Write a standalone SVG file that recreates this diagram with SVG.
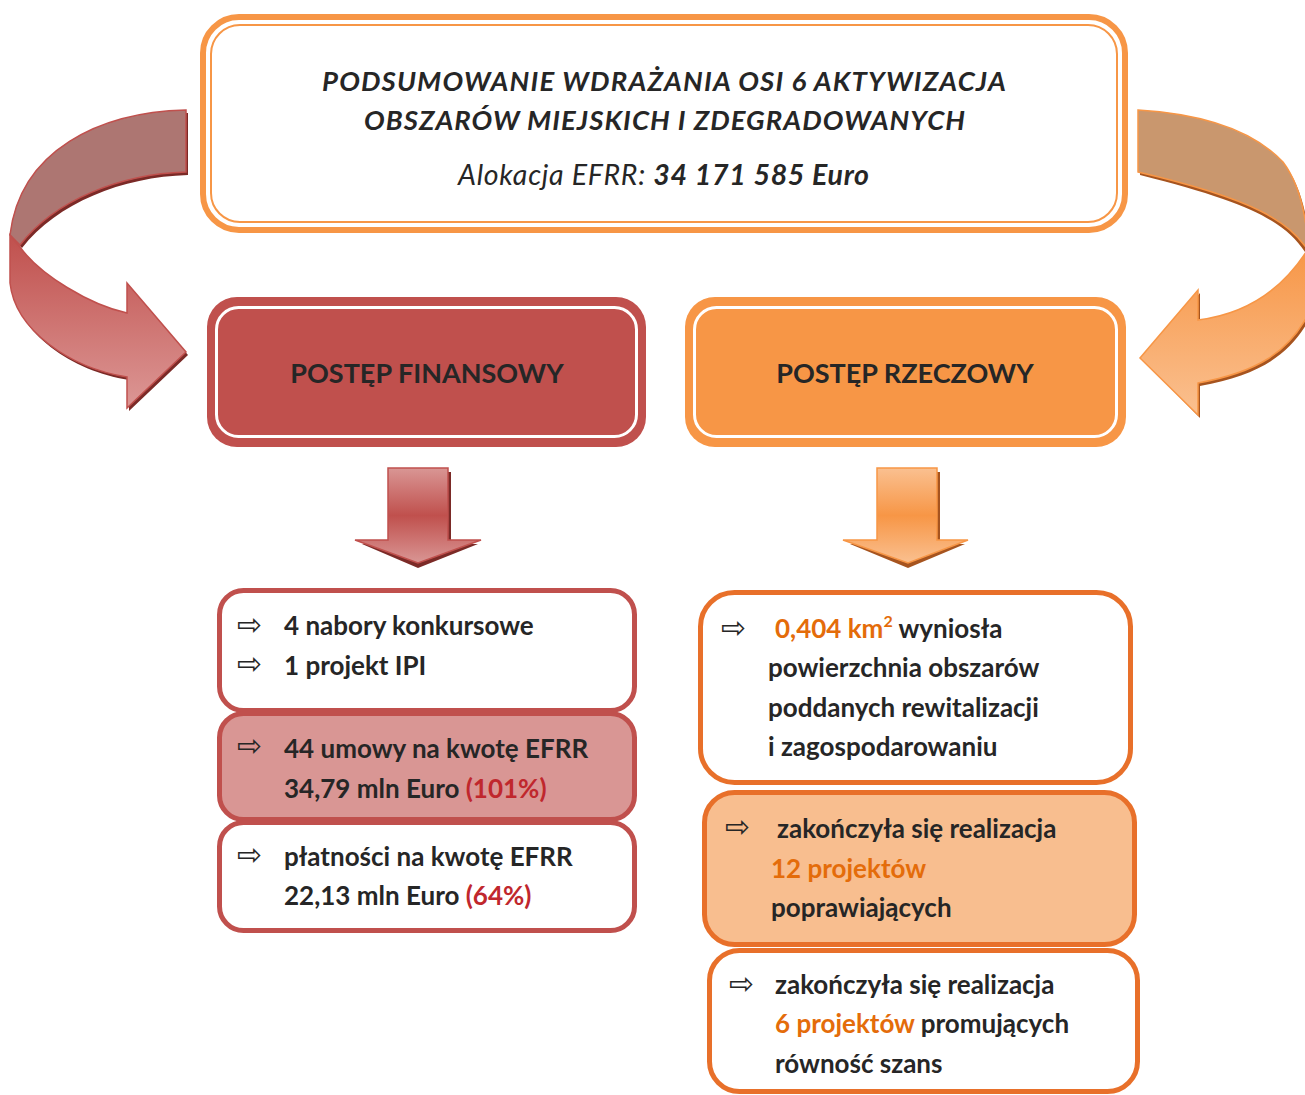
<svg xmlns="http://www.w3.org/2000/svg" width="1305" height="1095" viewBox="0 0 1305 1095">
<defs>
<style>
.t{font-family:Lato,"Liberation Sans","DejaVu Sans",sans-serif;fill:#262626}
.b{font-weight:bold}
.i{font-style:italic}
.item{font-size:26px;font-weight:bold}
.hd{font-size:27px;font-weight:bold;text-anchor:middle}
.arr{font-family:"DejaVu Sans",sans-serif;font-size:30px;fill:#262626}
.red{fill:#C0272D}
.or{fill:#E46C0A}
</style>
<linearGradient id="gRed" x1="0" y1="0" x2="0" y2="1">
<stop offset="0" stop-color="#C0504D"/>
<stop offset="1" stop-color="#DC9795"/>
</linearGradient>
<linearGradient id="gOr" x1="0" y1="0" x2="0" y2="1">
<stop offset="0" stop-color="#F79646"/>
<stop offset="1" stop-color="#FAC090"/>
</linearGradient>
<linearGradient id="gRedD" x1="0" y1="0" x2="0" y2="1">
<stop offset="0" stop-color="#D99694"/>
<stop offset="0.5" stop-color="#C0504D"/>
<stop offset="1" stop-color="#D99694"/>
</linearGradient>
<linearGradient id="gOrD" x1="0" y1="0" x2="0" y2="1">
<stop offset="0" stop-color="#FAC090"/>
<stop offset="0.5" stop-color="#F79646"/>
<stop offset="1" stop-color="#FAC090"/>
</linearGradient>
</defs>

<g id="connectors">
  <!-- left curved arrow -->
  <g id="curve-left">
    <path d="M188,113 C102,115 22,153 12,238 L22,248 C57,203 122,177 188,175 Z" fill="#7B2A27"/>
    <path d="M12,238 L12,286 C17,333 72,371 129,380 L129,411 L188,355 L129,286 L129,316 C92,308 42,278 22,250 Z" fill="#7B2A27"/>
    <path d="M186,110 C100,112 20,150 10,235 L20,245 C55,200 120,174 186,172 Z" fill="#AD7672" stroke="#C0504D" stroke-width="1.5"/>
    <path d="M10,235 L10,283 C15,330 70,368 127,377 L127,408 L186,352 L127,283 L127,313 C90,305 40,275 20,247 Z" fill="url(#gRed)" stroke="#C0504D" stroke-width="1.5"/>
  </g>
  <!-- right curved arrow -->
  <g id="curve-right">
    <path d="M1140,113 C1190,116 1250,128 1285,165 C1300,185 1308,215 1310,250 L1310,260 C1290,225 1260,205 1140,175 Z" fill="#A6541F"/>
    <path d="M1310,250 L1310,318 C1290,355 1260,375 1200,386 L1200,418 L1143,360 L1200,293 L1200,323 C1240,318 1280,300 1310,252 Z" fill="#A6541F"/>
    <path d="M1138,110 C1188,113 1248,125 1283,162 C1298,182 1306,212 1308,247 L1308,250 C1288,222 1258,200 1138,172 Z" fill="#C9976E" stroke="#F79646" stroke-width="1.5"/>
    <path d="M1308,247 L1308,315 C1288,352 1258,372 1198,383 L1198,415 L1140,358 L1198,290 L1198,320 C1238,315 1278,297 1308,249 Z" fill="url(#gOr)" stroke="#F79646" stroke-width="1.5"/>
  </g>
  <!-- down arrows -->
  <g id="down-left">
    <path d="M392,472 L451,472 L451,544 L478,544 L418,568 L362,544 L392,544 Z" fill="#7B2A27"/>
    <path d="M388,468 L448,468 L448,540 L481,540 L418,563 L355,540 L388,540 Z" fill="url(#gRedD)" stroke="#C0504D" stroke-width="1.5"/>
  </g>
  <g id="down-right">
    <path d="M881,472 L940,472 L940,544 L965,544 L908,568 L850,544 L881,544 Z" fill="#A6541F"/>
    <path d="M877,468 L937,468 L937,540 L968,540 L908,563 L843,540 L877,540 Z" fill="url(#gOrD)" stroke="#F79646" stroke-width="1.5"/>
  </g>
</g>

<g id="title">
  <rect x="203" y="17" width="922" height="213" rx="36" fill="#fff" stroke="#F79646" stroke-width="6"/>
  <rect x="211" y="25" width="906" height="197" rx="29" fill="none" stroke="#F79646" stroke-width="2"/>
  <text class="t b i" x="322" y="91" font-size="27.5" textLength="684">PODSUMOWANIE WDRAŻANIA OSI 6 AKTYWIZACJA</text>
  <text class="t b i" x="364" y="130" font-size="27.5" textLength="601">OBSZARÓW MIEJSKICH I ZDEGRADOWANYCH</text>
  <text class="t i" x="458" y="185" font-size="28.5" textLength="411">Alokacja EFRR: <tspan class="b">34 171 585 Euro</tspan></text>
</g>

<g id="fin">
  <rect x="207" y="297" width="439" height="150" rx="30" fill="#C0504D"/>
  <rect x="216.5" y="307.5" width="420" height="129" rx="22" fill="none" stroke="#fff" stroke-width="3"/>
  <text class="t hd" x="427" y="383">POSTĘP FINANSOWY</text>
</g>

<g id="rzecz">
  <rect x="685" y="297" width="441" height="150" rx="30" fill="#F79646"/>
  <rect x="694.5" y="307.5" width="422" height="129" rx="22" fill="none" stroke="#fff" stroke-width="3"/>
  <text class="t hd" x="905" y="383">POSTĘP RZECZOWY</text>
</g>

<g id="fin-1">
  <rect x="219.5" y="590.5" width="415" height="120" rx="24" fill="#fff" stroke="#C0504D" stroke-width="5"/>
  <text class="arr" x="237" y="635">⇨</text>
  <text class="t item" x="284" y="635">4 nabory konkursowe</text>
  <text class="arr" x="237" y="674">⇨</text>
  <text class="t item" x="284" y="675">1 projekt IPI</text>
</g>
<g id="fin-2">
  <rect x="219.5" y="713.5" width="415" height="106" rx="24" fill="#D99694" stroke="#C0504D" stroke-width="5"/>
  <text class="arr" x="237" y="756">⇨</text>
  <text class="t item" x="284" y="758">44 umowy na kwotę EFRR</text>
  <text class="t item" x="284" y="798">34,79 mln Euro <tspan class="red">(101%)</tspan></text>
</g>
<g id="fin-3">
  <rect x="219.5" y="822.5" width="415" height="108" rx="24" fill="#fff" stroke="#C0504D" stroke-width="5"/>
  <text class="arr" x="237" y="865">⇨</text>
  <text class="t item" x="284" y="866">płatności na kwotę EFRR</text>
  <text class="t item" x="284" y="905">22,13 mln Euro <tspan class="red">(64%)</tspan></text>
</g>

<g id="rz-1">
  <rect x="700.5" y="592.5" width="430" height="190" rx="34" fill="#fff" stroke="#E8702A" stroke-width="5"/>
  <text class="arr" x="721" y="638">⇨</text>
  <text class="t item" x="775" y="638"><tspan class="or">0,404 km</tspan><tspan class="or" font-size="16" dy="-11">2</tspan><tspan dy="11"> wyniosła</tspan></text>
  <text class="t item" x="768" y="677">powierzchnia obszarów</text>
  <text class="t item" x="768" y="717">poddanych rewitalizacji</text>
  <text class="t item" x="768" y="756">i zagospodarowaniu</text>
</g>
<g id="rz-2">
  <rect x="704.5" y="792.5" width="430" height="152" rx="30" fill="#F8BE8F" stroke="#E8702A" stroke-width="5"/>
  <text class="arr" x="725" y="837">⇨</text>
  <text class="t item" x="777" y="838">zakończyła się realizacja</text>
  <text class="t item or" x="771" y="878">12 projektów</text>
  <text class="t item" x="771" y="917">poprawiających</text>
</g>
<g id="rz-3">
  <rect x="709.5" y="950.5" width="428" height="141" rx="30" fill="#fff" stroke="#E8702A" stroke-width="5"/>
  <text class="arr" x="729" y="994">⇨</text>
  <text class="t item" x="775" y="994">zakończyła się realizacja</text>
  <text class="t item" x="775" y="1033"><tspan class="or">6 projektów</tspan> promujących</text>
  <text class="t item" x="775" y="1073">równość szans</text>
</g>
</svg>
